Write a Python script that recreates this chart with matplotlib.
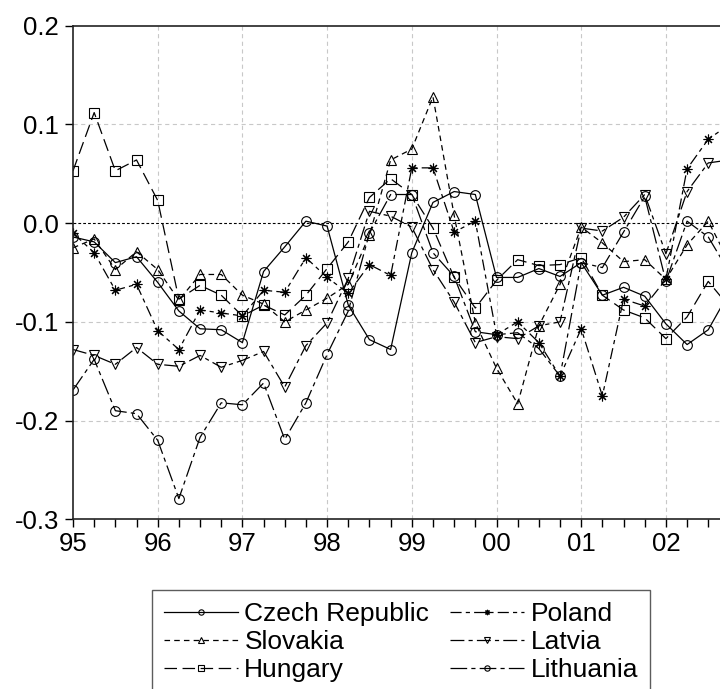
import numpy as np
import matplotlib
matplotlib.use("Agg")
import matplotlib.pyplot as plt
from matplotlib.ticker import MultipleLocator, FixedLocator

plt.rcParams['font.family'] = ['Liberation Sans', 'DejaVu Sans']
plt.rcParams['axes.unicode_minus'] = False
plt.rcParams['lines.scale_dashes'] = False

# quarterly series, 1995Q1 - 2002Q4
start_year = 1995
czech = [-0.014, -0.019, -0.040, -0.034, -0.060, -0.089, -0.107, -0.108,
         -0.121, -0.049, -0.024, 0.002, -0.003, -0.083, -0.118, -0.128,
         -0.030, 0.021, 0.032, 0.029, -0.055, -0.055, -0.046, -0.054,
         -0.040, -0.073, -0.065, -0.074, -0.102, -0.123, -0.108, -0.070]
slovakia = [-0.025, -0.016, -0.047, -0.029, -0.047, -0.078, -0.052, -0.052,
            -0.073, -0.082, -0.100, -0.088, -0.076, -0.062, -0.012, 0.064,
            0.075, 0.128, 0.008, -0.101, -0.147, -0.183, -0.104, -0.062,
            -0.004, -0.020, -0.039, -0.037, -0.057, -0.022, 0.002, -0.040]
hungary = [0.053, 0.112, 0.053, 0.064, 0.023, -0.077, -0.063, -0.073,
           -0.094, -0.083, -0.093, -0.073, -0.046, -0.019, 0.026, 0.045,
           0.029, -0.005, -0.055, -0.086, -0.058, -0.037, -0.043, -0.042,
           -0.035, -0.073, -0.088, -0.096, -0.117, -0.095, -0.059, -0.085]
poland = [-0.010, -0.030, -0.068, -0.062, -0.109, -0.128, -0.088, -0.091,
          -0.094, -0.068, -0.070, -0.035, -0.055, -0.071, -0.042, -0.053,
          0.056, 0.056, -0.009, 0.002, -0.113, -0.100, -0.121, -0.155,
          -0.107, -0.175, -0.077, -0.084, -0.057, 0.055, 0.085, 0.100]
latvia = [-0.128, -0.134, -0.143, -0.126, -0.143, -0.145, -0.134, -0.146,
          -0.139, -0.130, -0.166, -0.124, -0.101, -0.056, 0.012, 0.007,
          -0.004, -0.047, -0.080, -0.121, -0.115, -0.117, -0.104, -0.100,
          -0.005, -0.008, 0.006, 0.029, -0.031, 0.032, 0.061, 0.064]
lithuania = [-0.169, -0.138, -0.190, -0.193, -0.220, -0.279, -0.217, -0.182,
             -0.184, -0.162, -0.219, -0.182, -0.133, -0.089, -0.010, 0.029,
             0.029, -0.030, -0.054, -0.110, -0.113, -0.111, -0.127, -0.155,
             -0.040, -0.045, -0.009, 0.027, -0.059, 0.002, -0.014, -0.050]

x = start_year + np.arange(len(czech)) * 0.25
years = np.arange(1995, 2003)
year_labels = ["%02d" % (y % 100) for y in years]

fig = plt.figure(figsize=(7.2, 6.89), dpi=100)
# axes runs past the right edge of the figure on purpose
ax = fig.add_axes([73 / 720, 1 - 519.3 / 689, 677.6 / 720, 493.6 / 689])

# grid + zero line
for yv in np.arange(-0.2, 0.2, 0.1):
    if abs(yv) > 1e-9:
        ax.axhline(yv, color='#c8c8c8', lw=0.8, dashes=(3, 2.5), zorder=0)
for xv in years[1:]:
    ax.axvline(xv, color='#c8c8c8', lw=0.8, dashes=(3, 2.5), zorder=0)
ax.axhline(0, color='black', lw=0.8, dashes=(2, 1.5), zorder=1)

lw = 0.9
ms = 7
common = dict(lw=lw, color='black', markersize=ms, markerfacecolor='none',
              markeredgecolor='black', markeredgewidth=0.8)
ax.plot(x, czech, marker='o', linestyle='-', label='Czech Republic', **common)
ax.plot(x, slovakia, marker='^', dashes=(4, 3), label='Slovakia', **common)
ax.plot(x, hungary, marker='s', dashes=(9, 4), label='Hungary', **common)
ax.plot(x, poland, marker=(8, 2, 0), dashes=(8, 3, 3, 3), label='Poland', **common)
ax.plot(x, latvia, marker='v', dashes=(10, 3, 3, 3), label='Latvia', **common)
ax.plot(x, lithuania, marker='o', dashes=(12, 3, 3, 3), label='Lithuania', **common)

ax.set_xlim(1995, 2003)
ax.set_ylim(-0.3, 0.2)
ax.xaxis.set_major_locator(FixedLocator(years))
ax.set_xticklabels(year_labels)
ax.xaxis.set_minor_locator(MultipleLocator(0.25))
ax.yaxis.set_major_locator(MultipleLocator(0.1))
ax.yaxis.set_major_formatter(plt.FuncFormatter(lambda v, p: "%.1f" % v))

ax.tick_params(axis='both', which='both', direction='out', length=6,
               width=1, labelsize=18.5, colors='black')
ax.tick_params(axis='x', pad=3)
ax.tick_params(axis='y', pad=4)
for s in ax.spines.values():
    s.set_linewidth(1.2)
    s.set_color('#222222')

leg = fig.legend(loc='upper left', bbox_to_anchor=(152 / 720, 1 - 590 / 689),
                 ncol=2, fontsize=19, frameon=True, fancybox=False,
                 edgecolor='#333333', handlelength=2.8, handletextpad=0.25,
                 columnspacing=0.8, labelspacing=0.15, borderpad=0.45,
                 borderaxespad=0, markerscale=0.55)
leg.get_frame().set_linewidth(1.0)

fig.savefig('out.png', dpi=100)
